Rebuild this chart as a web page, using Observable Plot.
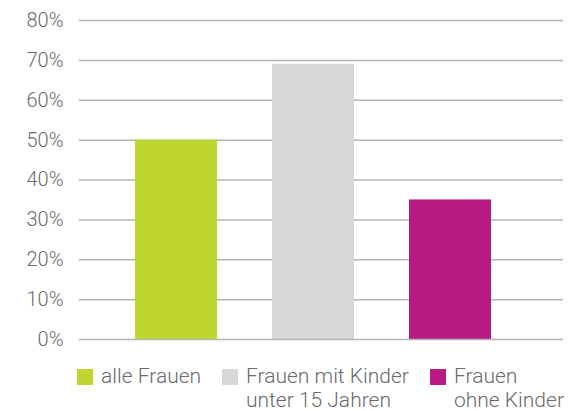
<!DOCTYPE html>
<html>
<head>
<meta charset="utf-8">
<script src="https://cdn.jsdelivr.net/npm/d3@7"></script>
<script src="https://cdn.jsdelivr.net/npm/@observablehq/plot@0.6"></script>
<style>
  body { margin: 0; background: #fff; font-family: Roboto, "Noto Sans", sans-serif; }
  #wrap { position: relative; width: 583px; height: 411px; }
  .leg { position: absolute; top: 364px; display: flex; align-items: flex-start; font-size: 21px; font-weight: 300; color: #6a6a6a; line-height: 24px; }
  .sw { width: 16px; height: 16px; margin-top: 5px; margin-right: 8px; flex: none; }
</style>
</head>
<body>
<div id="wrap">
  <div id="chart"></div>
  <div id="legend"></div>
</div>
<script>
const categories = ["alle Frauen", "Frauen mit Kinder unter 15 Jahren", "Frauen ohne Kinder"];
const legendLines = [["alle Frauen"], ["Frauen mit Kinder", "unter 15 Jahren"], ["Frauen", "ohne Kinder"]];
const values = [50, 69, 35];
const colors = ["#bed62f", "#d7d8da", "#b81c84"];
const yTicks = [0, 10, 20, 30, 40, 50, 60, 70, 80];

const data = categories.map((c, i) => ({category: c, value: values[i]}));

const chart = Plot.plot({
  width: 583,
  height: 350,
  marginTop: 20,
  marginBottom: 11,
  marginLeft: 79,
  marginRight: 20,
  style: {fontFamily: "Roboto, sans-serif", fontSize: "20px", fontWeight: 300, color: "#6a6a6a", background: "#fff"},
  x: {domain: categories, range: [80, 547], padding: 0.4, axis: null},
  y: {domain: [0, 80], axis: null},
  color: {domain: categories, range: colors},
  marks: [
    Plot.ruleY(yTicks.filter(d => d > 0), {stroke: "#b4b4b6", strokeWidth: 1.5}),
    Plot.barY(data, {x: "category", y: "value", fill: "category"}),
    Plot.ruleY([0], {stroke: "#b4b4b6", strokeWidth: 1.5}),
    Plot.axisY({ticks: yTicks, tickSize: 0, tickPadding: 16, label: null, tickFormat: d => d + "%", fill: "#6a6a6a", fontSize: 20, fontWeight: 300})
  ]
});
document.getElementById("chart").appendChild(chart);

const legendX = [77, 222, 430];
const leg = document.getElementById("legend");
categories.forEach((c, i) => {
  const item = document.createElement("div");
  item.className = "leg";
  item.style.left = legendX[i] + "px";
  const sw = document.createElement("div");
  sw.className = "sw";
  sw.style.background = colors[i];
  const txt = document.createElement("div");
  txt.innerHTML = legendLines[i].join("<br>");
  item.appendChild(sw);
  item.appendChild(txt);
  leg.appendChild(item);
});
</script>
</body>
</html>
